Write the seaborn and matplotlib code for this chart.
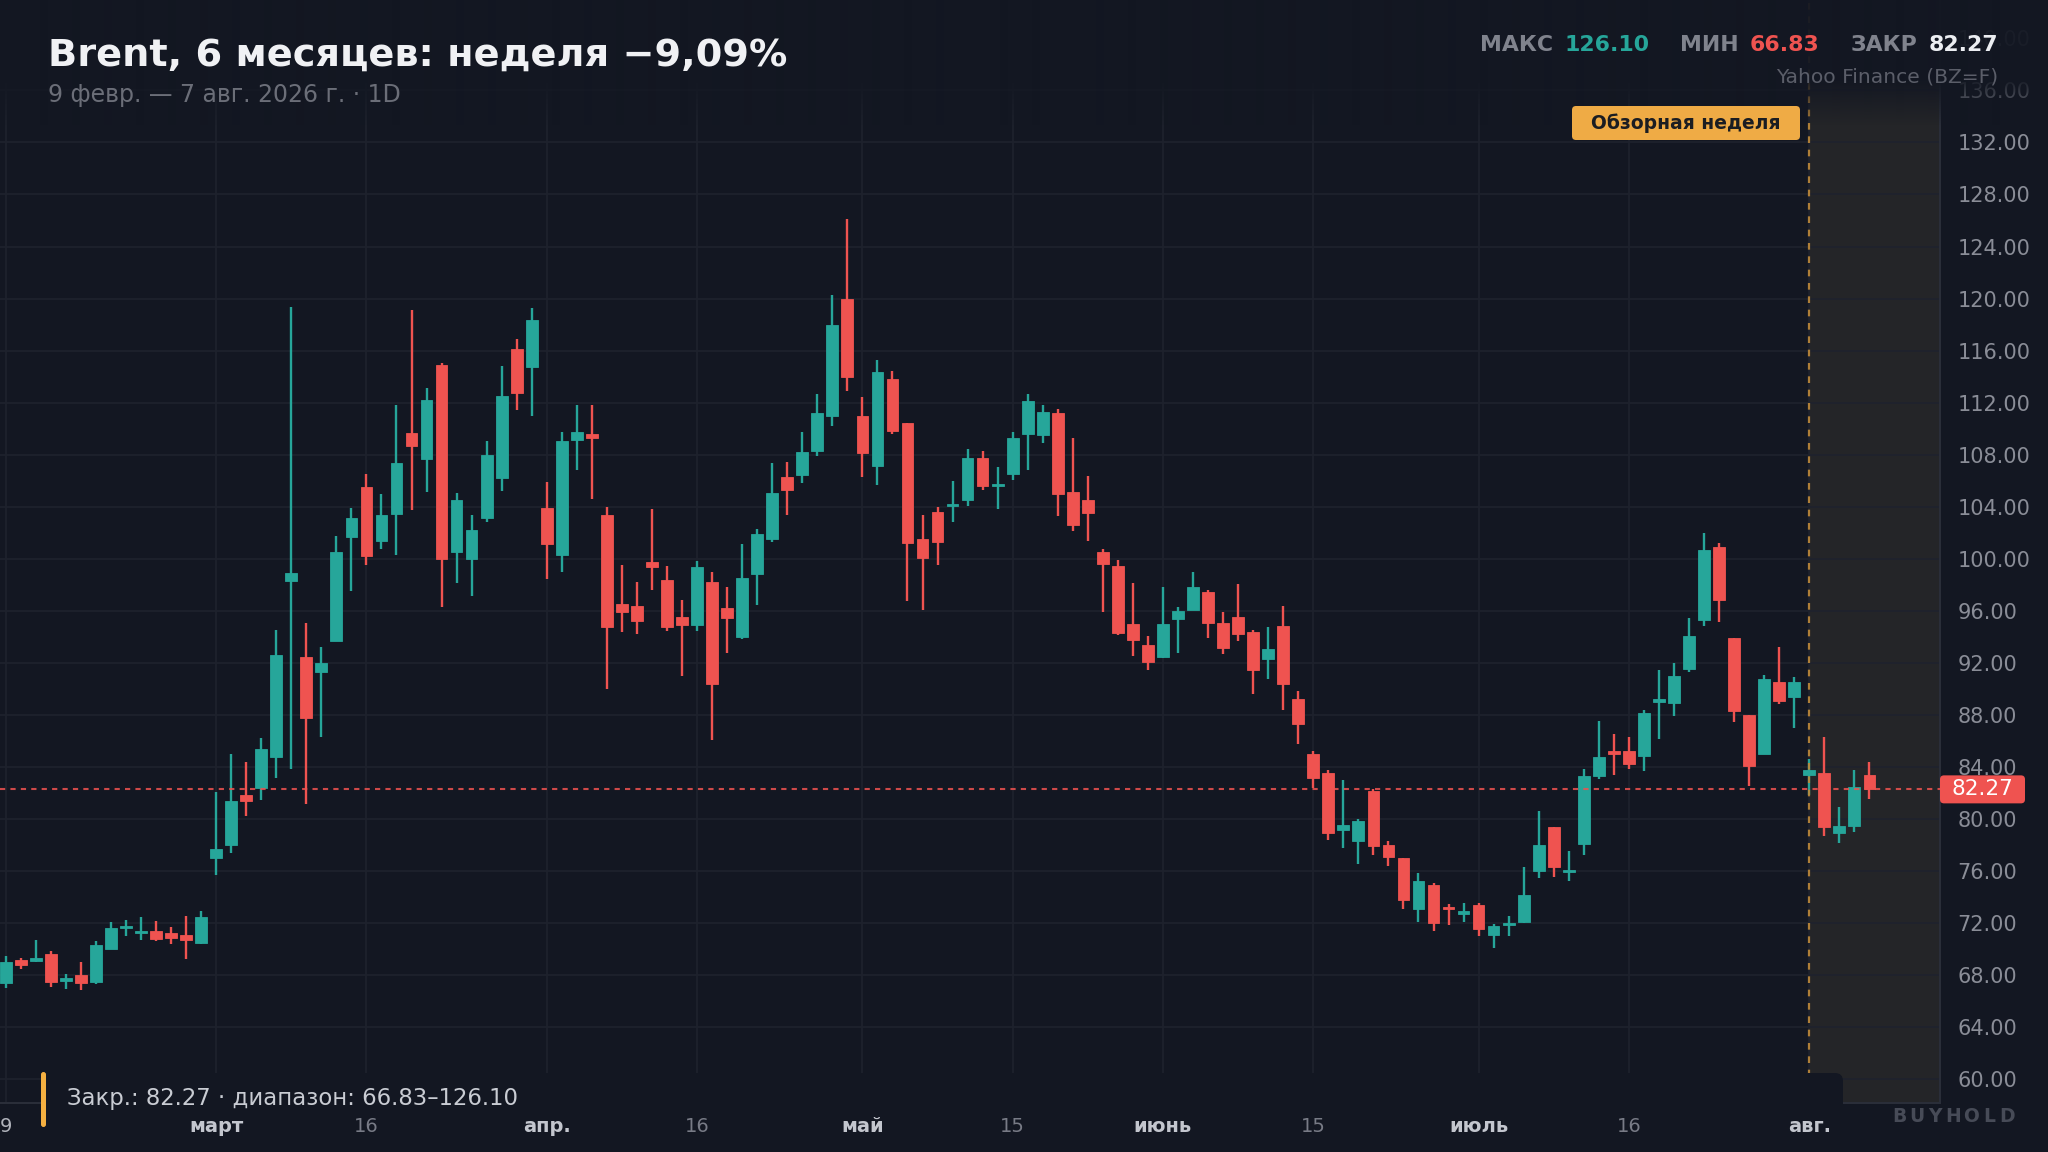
import numpy as np
import pandas as pd
import seaborn as sns
import matplotlib.pyplot as plt
from matplotlib.patches import FancyBboxPatch
from matplotlib.colors import to_rgb
from matplotlib.transforms import Affine2D

# daily OHLC, Brent (BZ=F), 9 Feb - 7 Aug 2026
opens = [67.42, 69.12, 69.08, 69.61, 67.53, 68.02, 67.49, 70.00, 71.63, 71.24,
         71.41, 71.20, 71.10, 70.46, 76.96, 78.02, 81.84, 82.40, 84.77, 98.30,
         92.44, 91.30, 93.69, 101.64, 105.49, 101.38, 103.44, 109.67, 107.64, 114.90,
         100.51, 99.97, 103.10, 106.21, 116.13, 114.74, 103.87, 100.28, 109.15, 109.56,
         103.38, 96.51, 96.38, 99.71, 98.40, 95.51, 94.88, 98.20, 96.20, 93.97,
         98.86, 101.55, 106.28, 106.47, 108.26, 110.98, 119.96, 110.98, 107.10, 113.78,
         110.43, 101.50, 103.56, 104.02, 104.49, 107.72, 105.62, 106.54, 109.59, 109.51,
         111.18, 105.15, 104.54, 100.54, 99.41, 94.95, 93.38, 92.41, 95.38, 96.08,
         97.44, 95.08, 95.51, 94.33, 92.27, 94.82, 89.18, 84.97, 83.54, 79.18,
         78.33, 82.18, 78.03, 76.97, 73.08, 74.92, 73.21, 72.72, 73.36, 71.08,
         71.87, 72.08, 75.97, 79.36, 75.90, 78.04, 83.31, 85.23, 85.23, 84.87,
         89.00, 88.90, 91.49, 95.26, 100.90, 93.90, 88.00, 84.95, 90.49, 89.38,
         83.36, 83.56, 78.92, 79.46, 83.36]
highs = [69.43, 69.33, 70.71, 69.82, 68.06, 68.98, 70.60, 72.08, 72.26, 72.44,
         72.16, 71.66, 72.55, 72.93, 82.08, 85.02, 84.38, 86.25, 94.52, 119.33,
         95.05, 93.24, 101.77, 103.87, 106.51, 104.95, 111.85, 119.10, 113.10, 115.08,
         105.03, 103.38, 109.05, 114.82, 116.90, 119.26, 105.90, 109.72, 111.85, 111.82,
         104.00, 99.51, 98.23, 103.84, 99.41, 96.86, 99.82, 98.95, 97.79, 101.14,
         102.30, 107.32, 107.46, 109.74, 112.68, 120.26, 126.10, 112.41, 115.24, 114.41,
         110.43, 103.37, 103.97, 105.97, 108.44, 108.31, 107.08, 109.74, 112.69, 111.82,
         111.49, 109.31, 106.33, 100.74, 99.87, 98.15, 94.03, 97.79, 96.26, 98.97,
         97.62, 95.92, 98.05, 94.51, 94.72, 96.33, 89.85, 85.23, 83.77, 82.97,
         80.00, 82.33, 78.33, 76.97, 75.85, 75.10, 73.49, 73.54, 73.54, 71.92,
         72.56, 76.33, 80.59, 79.36, 77.56, 83.86, 87.56, 86.54, 86.28, 88.36,
         91.46, 91.97, 95.46, 102.00, 101.18, 93.90, 88.00, 91.05, 93.18, 90.90,
         84.64, 86.33, 80.95, 83.79, 84.41]
lows = [67.00, 68.48, 69.00, 67.07, 66.89, 66.83, 67.31, 70.00, 71.03, 70.67,
        70.60, 70.35, 69.26, 70.35, 75.69, 77.35, 80.25, 81.45, 83.11, 83.82,
        81.13, 86.30, 93.69, 97.54, 99.54, 100.74, 100.31, 103.74, 105.10, 96.26,
        98.10, 97.15, 102.79, 105.23, 111.46, 111.00, 98.44, 99.00, 106.85, 104.59,
        89.97, 94.33, 94.22, 97.57, 94.41, 90.98, 94.41, 86.03, 92.74, 93.86,
        96.47, 101.28, 103.34, 105.81, 107.87, 110.18, 112.93, 106.28, 105.65, 109.58,
        96.72, 96.03, 99.52, 102.79, 104.08, 105.31, 103.82, 106.05, 106.85, 108.90,
        103.26, 102.15, 101.36, 95.90, 94.15, 92.54, 91.44, 92.36, 92.77, 96.03,
        93.90, 92.67, 93.67, 89.62, 90.78, 88.36, 85.77, 82.36, 78.41, 77.77,
        76.54, 77.23, 76.41, 73.08, 72.08, 71.38, 71.85, 72.10, 71.00, 70.08,
        71.00, 72.03, 75.44, 75.56, 75.26, 77.24, 83.05, 83.36, 83.82, 83.69,
        86.13, 87.90, 91.31, 94.85, 95.10, 87.46, 82.51, 84.95, 88.82, 86.97,
        81.85, 78.69, 78.15, 78.97, 81.51]
closes = [69.01, 68.76, 69.33, 67.49, 67.74, 67.42, 70.32, 71.59, 71.80, 71.41,
          70.74, 70.85, 70.67, 72.44, 77.70, 81.38, 81.38, 85.37, 92.61, 98.94,
          87.77, 91.97, 100.49, 103.13, 100.21, 103.38, 107.38, 108.64, 112.18, 99.95,
          104.49, 102.21, 108.00, 112.54, 112.74, 118.33, 101.15, 109.05, 109.77, 109.26,
          94.72, 95.92, 95.20, 99.36, 94.77, 94.93, 99.36, 90.37, 95.46, 98.48,
          101.88, 105.04, 105.29, 108.20, 111.23, 117.98, 113.97, 108.15, 114.38, 109.85,
          101.23, 100.07, 101.28, 104.19, 107.77, 105.62, 105.74, 109.26, 112.10, 111.26,
          105.00, 102.56, 103.51, 99.59, 94.28, 93.72, 92.05, 94.97, 96.00, 97.79,
          95.03, 93.10, 94.23, 91.44, 93.09, 90.36, 87.31, 83.15, 78.95, 79.51,
          79.82, 77.90, 77.08, 73.74, 75.23, 72.00, 73.08, 72.92, 71.54, 71.77,
          72.00, 74.15, 77.97, 76.28, 76.03, 83.30, 84.74, 84.97, 84.21, 88.13,
          89.21, 91.00, 94.08, 100.69, 96.79, 88.33, 84.08, 90.74, 89.03, 90.50,
          83.77, 79.38, 79.46, 82.49, 82.27]

holidays = ["2026-02-16", "2026-04-03", "2026-05-25", "2026-06-19", "2026-07-03"]
tick_dates = ["2026-02-09", "2026-03-02", "2026-03-16", "2026-04-01", "2026-04-16", "2026-05-01",
              "2026-05-15", "2026-06-01", "2026-06-15", "2026-07-01", "2026-07-16", "2026-08-03"]
tick_labels = ["9", "март", "16", "апр.", "16", "май", "15", "июнь", "15", "июль", "16", "авг."]
month_ticks = ["март", "апр.", "май", "июнь", "июль", "авг."]
review_start = "2026-08-03"

BG = "#131722"
UP = "#26a69a"
DOWN = "#ef5350"
GRID = "#1e222d"
MUTED = "#787b86"

days = pd.bdate_range("2026-02-09", "2026-08-07")
days = days[~days.isin(pd.to_datetime(holidays))]
df = pd.DataFrame({"date": days, "open": opens, "high": highs, "low": lows, "close": closes})
df["x"] = np.arange(len(df))
df["color"] = np.where(df["close"] >= df["open"], UP, DOWN)

sns.set_theme(style="dark", rc={"axes.facecolor": BG, "figure.facecolor": BG})
plt.rcParams["font.family"] = ["DejaVu Sans"]

W, H = 2048, 1152
fig = plt.figure(figsize=(W / 100, H / 100), dpi=100)
fig.patch.set_facecolor(BG)
px = Affine2D().scale(1 / W, -1 / H).translate(0, 1) + fig.transFigure

bottom, right = 1103, 1940
ymin, ymax = 58.16, 142.95
ax = fig.add_axes([0, 1 - bottom / H, right / W, bottom / H])
ax.set_facecolor(BG)

# review week shading
rx = df.loc[df["date"] == pd.Timestamp(review_start), "x"].iloc[0]
xmax = 128.7
ax.axvspan(rx, xmax, color="#242528", zorder=0.2, lw=0)

# candles
ax.vlines(df["x"], df["low"], df["high"], colors=df["color"], lw=1.7, zorder=2)
body = (df["close"] - df["open"]).abs().clip(lower=0.14)
ax.bar(df["x"], body, bottom=df[["open", "close"]].min(axis=1), width=0.78,
       color=df["color"], edgecolor=df["color"], lw=0.6, zorder=3)

last = closes[-1]
ax.axhline(last, color=DOWN, ls=(0, (2.5, 2.5)), lw=1.5, alpha=0.85, zorder=4)
ax.axvline(rx, color="#c08a3a", ls=(0, (3, 3)), lw=1.6, alpha=0.9, zorder=4)

ax.set_xlim(-0.38, xmax)
ax.set_ylim(ymin, ymax)

yt = np.arange(60, 141, 4)
ax.set_yticks(yt)
ax.set_yticklabels([f"{v:.2f}" for v in yt])
ax.yaxis.tick_right()
ax.tick_params(axis="y", length=0, pad=12.5, labelsize=15, labelcolor="#8a8d97")

tick_x = [df.loc[df["date"] >= pd.Timestamp(d), "x"].iloc[0] for d in tick_dates]
ax.set_xticks(tick_x)
ax.set_xticklabels(tick_labels)
ax.tick_params(axis="x", length=0, pad=10, labelsize=14)
for t in ax.get_xticklabels():
    if t.get_text() in month_ticks:
        t.set_fontweight("bold")
        t.set_color("#c3c6ce")
    else:
        t.set_color(MUTED)
ax.get_xticklabels()[0].set_color("#b0b3bb")

ax.set_axisbelow(True)
ax.grid(True, color=GRID, lw=1.2)
for s in ["top", "left"]:
    ax.spines[s].set_visible(False)
for s in ["bottom", "right"]:
    ax.spines[s].set_color("#2a2e39")
    ax.spines[s].set_linewidth(1.5)

# header fade over the top of the pane
rows = np.arange(H)
alpha = np.clip((125 - rows) / 45, 0, 1) * 0.95
fade = np.zeros((H, 1, 4))
fade[:, 0, :3] = to_rgb(BG)
fade[:, 0, 3] = alpha
ov = fig.add_axes([0, 0, 1, 1], zorder=5)
ov.imshow(fade, extent=[0, 1, 0, 1], aspect="auto", interpolation="bilinear")
ov.set_axis_off()
ov.patch.set_visible(False)

# last price tag
ytag = (ymax - last) / (ymax - ymin) * bottom
fig.add_artist(FancyBboxPatch((1940, ytag - 14), 85, 28, boxstyle="round,pad=0,rounding_size=4",
                              transform=px, fc=DOWN, ec="none", zorder=6))
fig.text(1982, ytag, f"{last:.2f}", transform=px, ha="center", va="center",
         fontsize=15.5, color="white", zorder=7)

# header texts
fig.text(48, 56, "Brent, 6 месяцев: неделя \u22129,09%", transform=px, ha="left", va="center",
         fontsize=27.5, fontweight="bold", color="#f0f1f4", zorder=10)
fig.text(48, 95, "9 февр. \u2014 7 авг. 2026 г. · 1D", transform=px, ha="left", va="center",
         fontsize=17, color="#6b6e78", zorder=10)

renderer = fig.canvas.get_renderer()
stats = [("МАКС", "#80838d"), ("126.10", UP), ("МИН", "#80838d"),
         ("66.83", DOWN), ("ЗАКР", "#80838d"), ("82.27", "#eceef2")]
xr = 1998
for k, (label, col) in enumerate(reversed(stats)):
    t = fig.text(xr, 45, label, transform=px, ha="right", va="center",
                 fontsize=15.8, fontweight="bold", color=col, zorder=10)
    bb = t.get_window_extent(renderer)
    xr = bb.x0 * W / fig.bbox.width - (11 if k % 2 == 0 else 31)
fig.text(1998, 77, "Yahoo Finance (BZ=F)", transform=px, ha="right", va="center",
         fontsize=14.6, color="#5b5e69", zorder=10)

# review week badge
fig.add_artist(FancyBboxPatch((1572, 106), 228, 34, boxstyle="round,pad=0,rounding_size=4",
                              transform=px, fc="#efab45", ec="none", zorder=10))
fig.text(1686, 123, "Обзорная неделя", transform=px, ha="center", va="center",
         fontsize=13.5, fontweight="bold", color="#1b1d22", zorder=11)

# bottom summary strip
fig.add_artist(FancyBboxPatch((43, 1073), 1800, 43, boxstyle="round,pad=0,rounding_size=8",
                              transform=px, fc=BG, ec="none", zorder=6))
fig.add_artist(FancyBboxPatch((41, 1072), 5, 55, boxstyle="round,pad=0,rounding_size=2.5",
                              transform=px, fc="#f5b041", ec="none", zorder=7))
fig.text(67, 1099, "Закр.: 82.27 · диапазон: 66.83\u2013126.10", transform=px, ha="left",
         va="center", fontsize=16.4, color="#c9ccd3", zorder=7)

for k, ch in enumerate("BUYHOLD"):
    fig.text(1899 + 18 * k, 1117, ch, transform=px, ha="center", va="center",
             fontsize=13.5, fontweight="bold", color="#474b57")

fig.savefig("out.png", dpi=100, facecolor=BG)
